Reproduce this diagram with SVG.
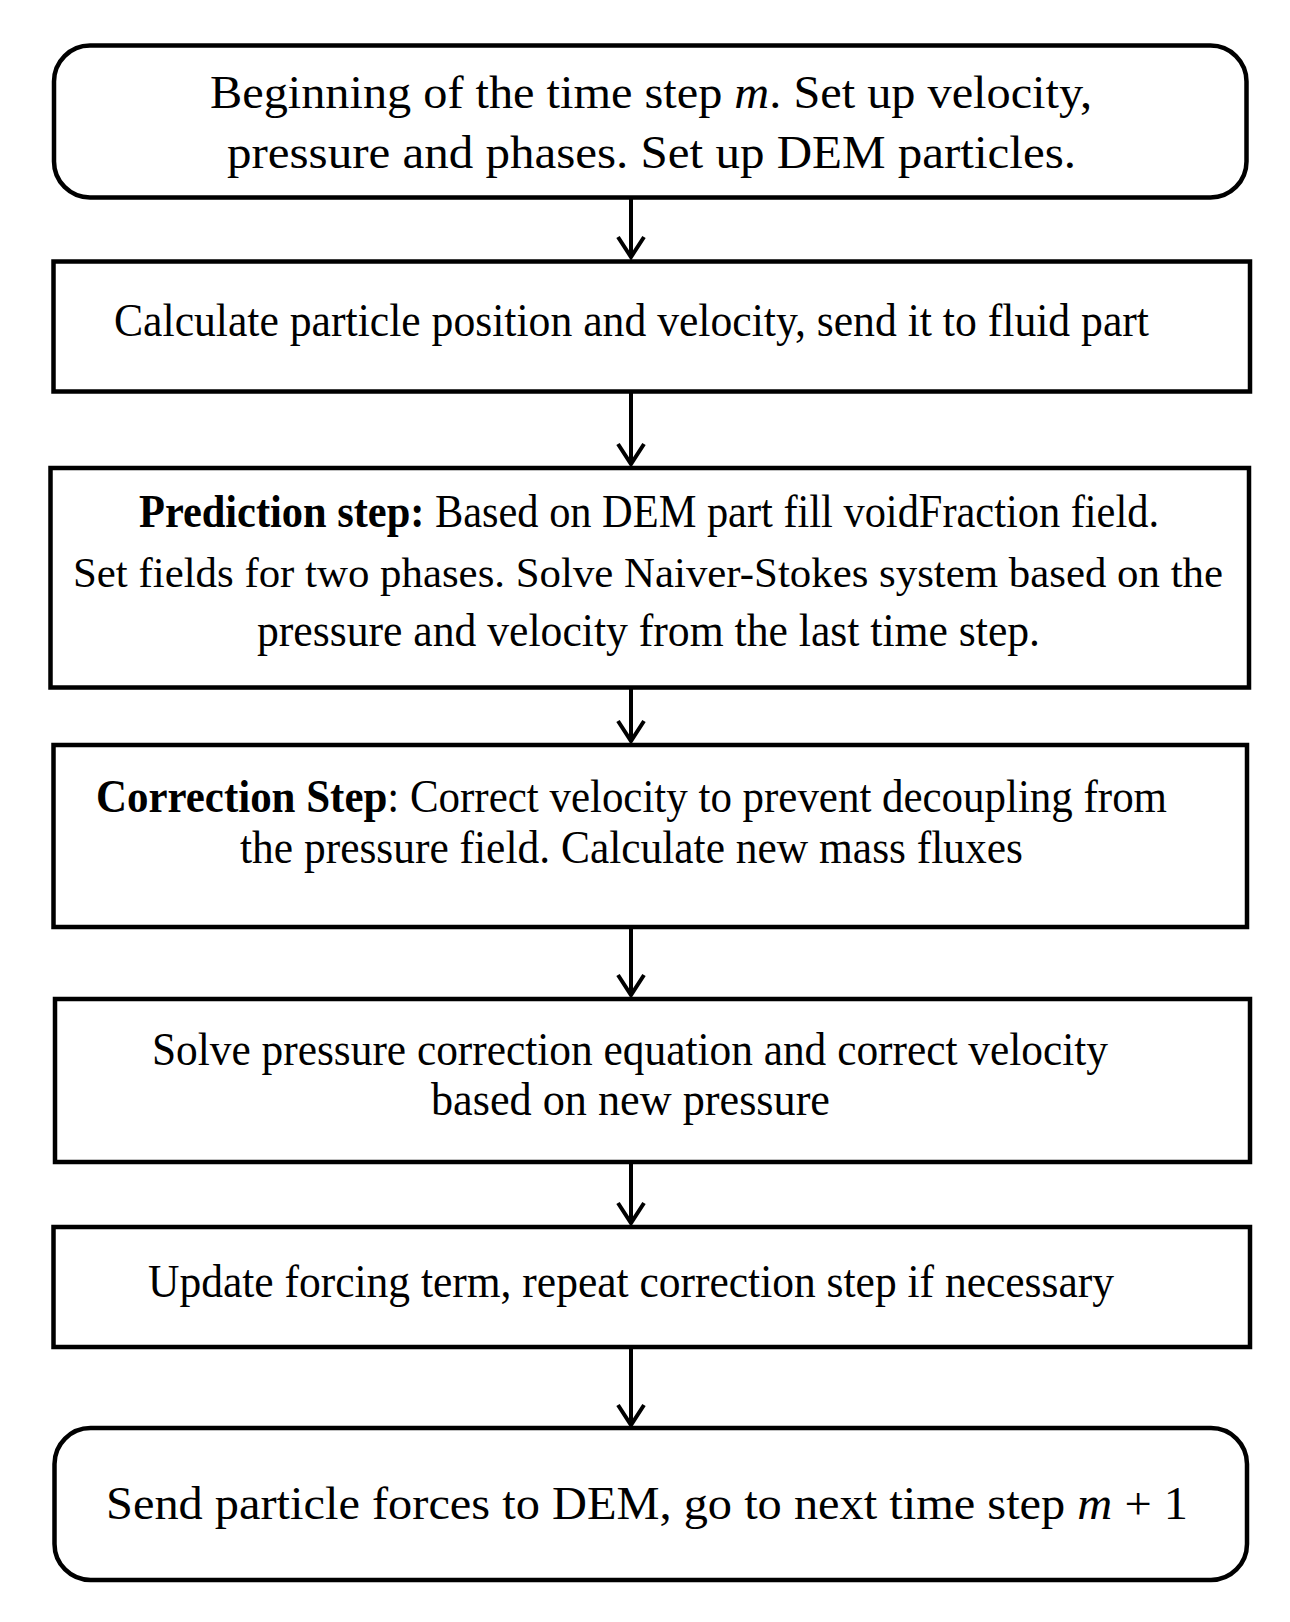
<svg xmlns="http://www.w3.org/2000/svg" width="1290" height="1622" viewBox="0 0 1290 1622">
<defs>
<style>
.box{fill:#fff;stroke:#000;stroke-width:4.5}
.t{font-family:"Liberation Serif","Times New Roman",serif;font-size:46px;fill:#000}
.b{font-weight:bold}
.i{font-style:italic}
.c{stroke:#000;stroke-width:4;fill:none}
</style>
<marker id="ah" markerUnits="userSpaceOnUse" markerWidth="40" markerHeight="40" viewBox="-30 -20 40 40" refX="0" refY="0" orient="auto">
<path d="M-20,-13 L0,0 L-20,13" fill="none" stroke="#000" stroke-width="4" stroke-linejoin="miter"/>
</marker>
</defs>
<rect width="1290" height="1622" fill="#fff"/>
<g id="connectors">
<line class="c" x1="631" y1="199" x2="631" y2="257" marker-end="url(#ah)"/>
<line class="c" x1="631" y1="392" x2="631" y2="464" marker-end="url(#ah)"/>
<line class="c" x1="631" y1="689" x2="631" y2="741" marker-end="url(#ah)"/>
<line class="c" x1="631" y1="928" x2="631" y2="995" marker-end="url(#ah)"/>
<line class="c" x1="631" y1="1163" x2="631" y2="1223" marker-end="url(#ah)"/>
<line class="c" x1="631" y1="1349" x2="631" y2="1425" marker-end="url(#ah)"/>
</g>
<g id="n1">
<rect class="box" x="54" y="45.5" width="1192.5" height="152" rx="36"/>
<text class="t" x="210" y="108" textLength="882" lengthAdjust="spacingAndGlyphs">Beginning of the time step <tspan class="i">m</tspan>. Set up velocity,</text>
<text class="t" x="227" y="168" textLength="849" lengthAdjust="spacingAndGlyphs">pressure and phases. Set up DEM particles.</text>
</g>
<g id="n2">
<rect class="box" x="53.5" y="261.5" width="1196.5" height="130"/>
<text class="t" x="114" y="336" textLength="1035" lengthAdjust="spacingAndGlyphs">Calculate particle position and velocity, send it to fluid part</text>
</g>
<g id="n3">
<rect class="box" x="50.5" y="468" width="1198.5" height="219.5"/>
<text class="t" x="139" y="527" textLength="1020" lengthAdjust="spacingAndGlyphs"><tspan class="b">Prediction step:</tspan> Based on DEM part fill voidFraction field.</text>
<text class="t" x="73" y="587" font-size="43" style="font-size:43px" textLength="1150" lengthAdjust="spacingAndGlyphs">Set fields for two phases. Solve Naiver-Stokes system based on the</text>
<text class="t" x="257" y="646" textLength="783" lengthAdjust="spacingAndGlyphs">pressure and velocity from the last time step.</text>
</g>
<g id="n4">
<rect class="box" x="53.5" y="745" width="1193.5" height="182"/>
<text class="t" x="96" y="812" textLength="1071" lengthAdjust="spacingAndGlyphs"><tspan class="b">Correction Step</tspan>: Correct velocity to prevent decoupling from</text>
<text class="t" x="240" y="863" textLength="783" lengthAdjust="spacingAndGlyphs">the pressure field. Calculate new mass fluxes</text>
</g>
<g id="n5">
<rect class="box" x="55" y="999" width="1195" height="163"/>
<text class="t" x="152" y="1065" textLength="956" lengthAdjust="spacingAndGlyphs">Solve pressure correction equation and correct velocity</text>
<text class="t" x="431" y="1115" textLength="399" lengthAdjust="spacingAndGlyphs">based on new pressure</text>
</g>
<g id="n6">
<rect class="box" x="53.5" y="1227" width="1196.5" height="120"/>
<text class="t" x="148" y="1297" textLength="966" lengthAdjust="spacingAndGlyphs">Update forcing term, repeat correction step if necessary</text>
</g>
<g id="n7">
<rect class="box" x="54.5" y="1428" width="1192.5" height="152" rx="36"/>
<text class="t" x="106" y="1519" textLength="1082" lengthAdjust="spacingAndGlyphs">Send particle forces to DEM, go to next time step <tspan class="i">m</tspan> + 1</text>
</g>
</svg>
